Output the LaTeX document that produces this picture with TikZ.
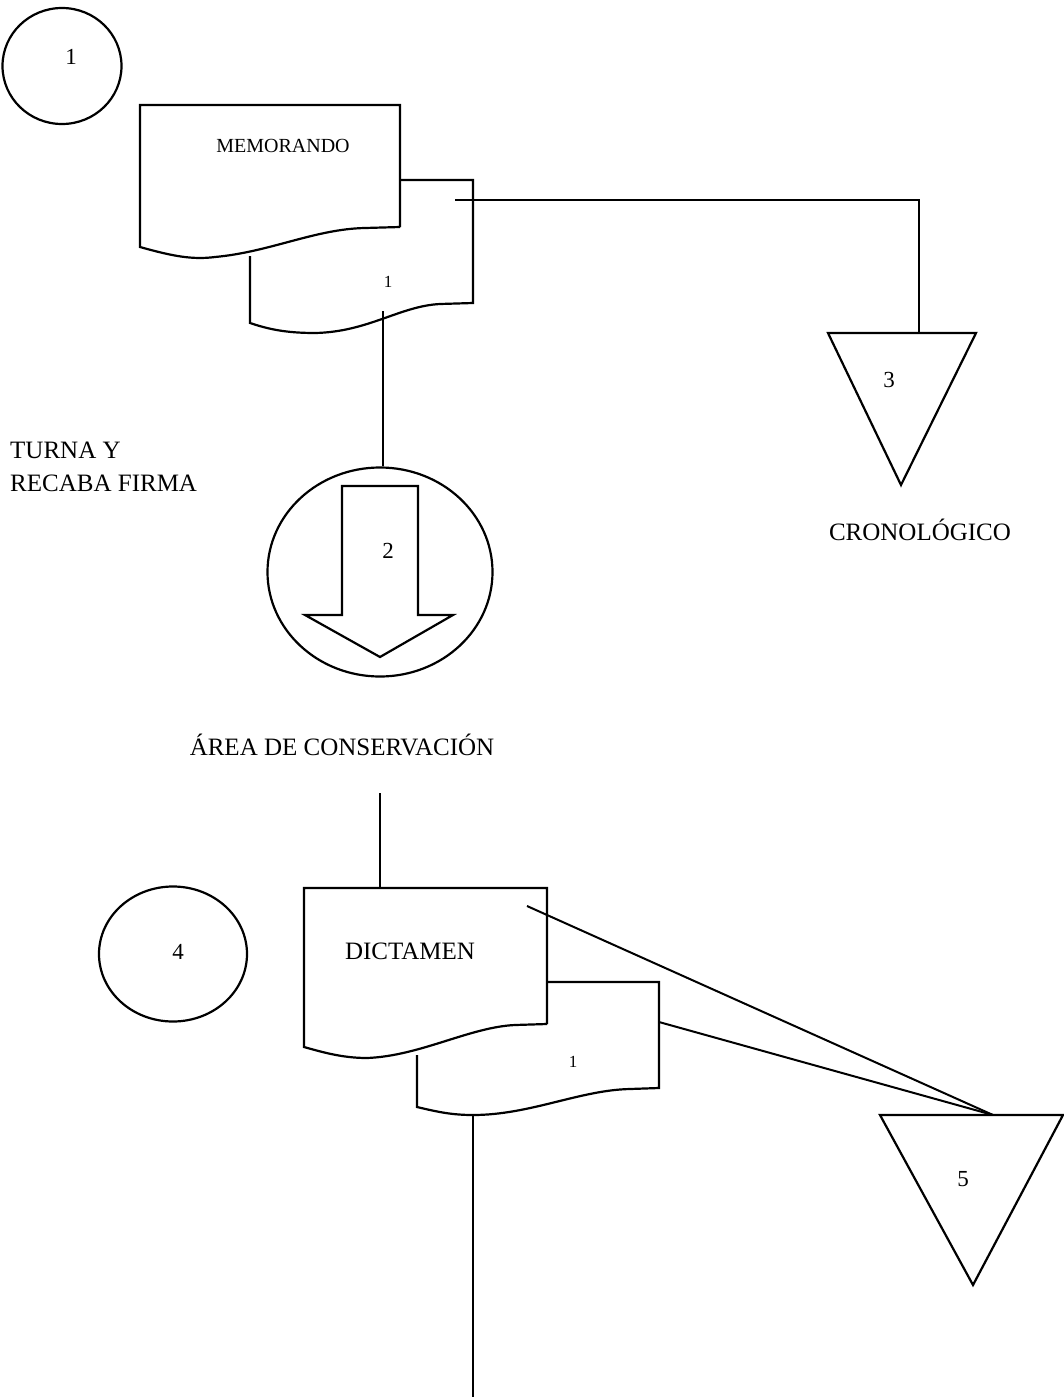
\documentclass[tikz,border=0pt]{standalone}
\usepackage{fontspec}
\setmainfont{Liberation Serif}
\usetikzlibrary{shapes.geometric}
\tikzset{
  outline/.style={draw=black, line width=2.2pt, line join=miter},
  wire/.style={draw=black, line width=2pt},
  oval/.style={outline, ellipse, inner sep=0pt},
  bigtext/.style={font=\fontsize{25}{30}\selectfont, inner sep=0pt},
  numtext/.style={font=\fontsize{23}{27}\selectfont, inner sep=0pt},
  copytext/.style={font=\fontsize{17}{20}\selectfont, inner sep=0pt},
}
\begin{document}
\begin{tikzpicture}[x=1pt, y=-1pt]
\useasboundingbox (0,0) rectangle (1064,1397);
\fill[white] (0,0) rectangle (1064,1397);

% ---- step 1: memorando with its copy ----
\node[oval, minimum width=119pt, minimum height=116pt] (c1) at (62,66) {};
\node[numtext] (n1) at (71,57) {1};

% original
\draw[outline] (400,227) -- (400,105) -- (140,105) -- (140,247)
  .. controls (172,256) and (192,260) .. (215,257)
  .. controls (270,252) and (315,229) .. (365,228) -- (400,227);
\node[font=\fontsize{20}{24}\selectfont, inner sep=0pt] (memo) at (283,146) {MEMORANDO};
% copy
\draw[outline] (400,180) -- (473,180) -- (473,303) -- (440,304)
  .. controls (400,306) and (368,332) .. (315,333)
  .. controls (285,333) and (268,329) .. (250,323) -- (250,256);
\node[copytext] (memocopy) at (388,282) {1};

\coordinate (memoout) at (455,200);
\coordinate (memobend) at (919,200);
\coordinate (memodown) at (383,311);

% file: cronologico
\coordinate (t3a) at (828,333);
\coordinate (t3b) at (976,333);
\coordinate (t3c) at (901,485);
\coordinate (t3top) at (919,333);
\draw[outline] (t3a) -- (t3b) -- (t3c) -- cycle;
\node[numtext] (n3) at (889,380) {3};
\node[bigtext] (cron) at (920,530) {CRONOLÓGICO};

\draw[wire] (memoout) -- (memobend) -- (t3top);

% ---- step 2: sent to the conservation area ----
\node[bigtext, align=left, anchor=north west, font=\fontsize{25}{33}\selectfont] (turna) at (10,442) {TURNA Y\\RECABA FIRMA};

\node[oval, minimum width=225pt, minimum height=209pt] (c2) at (380,572) {};
\draw[outline] (342,486) -- (418,486) -- (418,615) -- (453,615) -- (380,657)
  -- (305,615) -- (342,615) -- cycle;
\node[numtext] (n2) at (388,551) {2};

\draw[wire] (memodown) -- (memodown |- c2.north);

\node[bigtext] (area) at (342,745) {ÁREA DE CONSERVACIÓN};

% ---- step 4: dictamen with its copy ----
\node[oval, minimum width=148pt, minimum height=135pt] (c4) at (173,954) {};
\node[numtext] (n4) at (178,952) {4};

\coordinate (dictin) at (380,793);
\coordinate (dicttop) at (380,888);
\draw[wire] (dictin) -- (dicttop);

% original
\draw[outline] (547,1024) -- (547,888) -- (304,888) -- (304,1047)
  .. controls (322,1052) and (342,1058) .. (367,1058)
  .. controls (420,1056) and (470,1027) .. (515,1025) -- (547,1024);
\node[bigtext] (dict) at (410,951) {DICTAMEN};
% copy
\draw[outline] (547,982) -- (659,982) -- (659,1088) -- (630,1089)
  .. controls (580,1090) and (530,1115) .. (473,1115)
  .. controls (452,1115) and (438,1112) .. (417,1107) -- (417,1055);
\node[copytext] (dictcopy) at (573,1062) {1};

% file 5
\coordinate (t5a) at (880,1115);
\coordinate (t5b) at (1063,1115);
\coordinate (t5c) at (973,1285);
\coordinate (t5top) at (993,1115);
\draw[outline] (t5a) -- (t5b) -- (t5c) -- cycle;
\node[numtext] (n5) at (963,1179) {5};

\coordinate (dictout) at (527,906);
\coordinate (copyout) at (659,1022);
\draw[wire] (dictout) -- (t5top);
\draw[wire] (copyout) -- (t5top);

\coordinate (copybottom) at (473,1115);
\coordinate (pageend) at (473,1397);
\draw[wire] (copybottom) -- (pageend);
\end{tikzpicture}
\end{document}
